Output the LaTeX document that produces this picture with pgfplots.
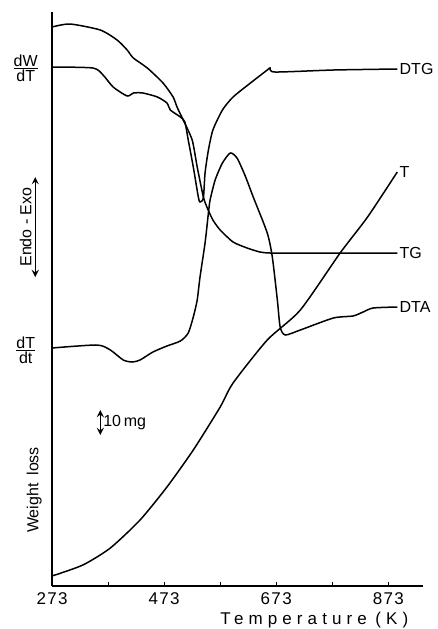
\documentclass[border=0pt]{standalone}
\usepackage{fontspec}
\setmainfont{Liberation Sans}
\usepackage{pgfplots}
\pgfplotsset{compat=1.18}
\begin{document}
\begin{tikzpicture}
\begin{axis}[
  scale only axis, width=185.5pt, height=287pt,
  xmin=273, xmax=935, ymin=0, ymax=574,
  axis lines=left,
  axis line style={-, line width=0.9pt},
  xtick={273,373,473,573,673,773,873},
  xticklabels={273,,473,,673,,873},
  ytick=\empty,
  tick align=inside, major tick length=2pt,
  tick style={line width=0.6pt, black},
  /pgf/number format/assume math mode=true,
  xticklabel style={font=\fontsize{8.5}{10}\selectfont\addfontfeature{LetterSpace=8}},
  clip=false,
  curve/.style={black, line width=0.75pt, mark=none, smooth, tension=0.4},
]
% TG
\addplot[curve] coordinates {(273,559) (305,562) (359,556) (389,546) (407,536) (418,528) (443,518) (471,503) (489,489) (496,479) (507,466) (523,446) (532,419) (543,389) (550,378) (560,366) (573,356) (596,344) (621,338) (644,334) (662,333) (716,333) (805,333) (889,333)};
% DTG
\addplot[curve] coordinates {(273,519) (346,518) (364,511) (382,499) (407,490) (418,493) (435,493) (461,489) (478,483) (484,476) (502,469) (510,464) (516,446) (525,419) (534,389) (537,384) (543,388) (546,413) (552,436) (560,456) (577,476) (596,489) (627,503) (657,516) (662,518) (671,514) (775,516) (889,517)};
% DTA
\addplot[curve] coordinates {(273,238) (353,241) (377,236) (400,226) (416,224) (430,226) (453,234) (478,240) (502,245) (516,253) (525,269) (532,286) (537,309) (546,343) (552,373) (555,386) (564,406) (577,423) (591,433) (603,428) (617,411) (632,389) (657,353) (666,329) (675,286) (680,259) (689,251) (716,256) (775,268) (810,270) (828,274) (846,278) (889,279)};
% T
\addplot[curve] coordinates {(273,10) (328,21) (377,38) (430,66) (478,99) (525,136) (573,179) (596,203) (657,246) (716,276) (787,333) (836,369) (889,414)};

\node[anchor=west, font=\fontsize{8}{9}\selectfont, inner sep=1pt] at (axis cs:889,517) {DTG};
\node[anchor=west, font=\fontsize{8}{9}\selectfont, inner sep=1pt] at (axis cs:889,414) {T};
\node[anchor=west, font=\fontsize{8}{9}\selectfont, inner sep=1pt] at (axis cs:889,333) {TG};
\node[anchor=west, font=\fontsize{8}{9}\selectfont, inner sep=1pt] at (axis cs:889,279) {DTA};

\node[font=\fontsize{8}{9}\selectfont] at (axis cs:226,518) {$\frac{\mbox{dW}}{\mbox{dT}}$};
\node[font=\fontsize{8}{9}\selectfont] at (axis cs:226,236) {$\frac{\mbox{dT}}{\mbox{dt}}$};
\node[rotate=90, font=\fontsize{8}{9}\selectfont] at (axis cs:226,359) {Endo - Exo};
\draw[<->, >=stealth, line width=0.6pt] (axis cs:243,409) -- (axis cs:243,309);
\draw[<->, >=stealth, line width=0.6pt] (axis cs:359,176) -- (axis cs:359,151);
\node[anchor=west, font=\fontsize{8}{9}\selectfont, inner sep=0.5pt] at (axis cs:362,163) {10\,mg};
\node[rotate=90, font=\fontsize{8}{9}\selectfont] at (axis cs:241,96) {Weight\enspace loss};
\node[font=\fontsize{8.5}{10}\selectfont\addfontfeature{LetterSpace=30}] at (axis cs:741,-34) {Temperature\enspace(K)};

\coordinate (ll) at (axis cs:180.1,-43);
\coordinate (ur) at (axis cs:960.5,586);
\end{axis}
\pgfresetboundingbox
\path[use as bounding box] (ll) rectangle (ur);
\end{tikzpicture}
\end{document}
